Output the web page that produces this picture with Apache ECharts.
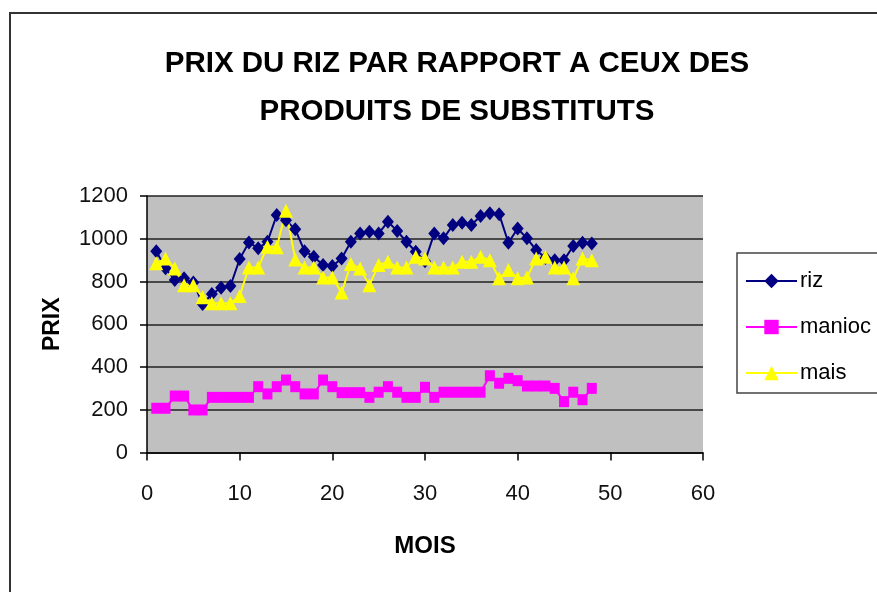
<!DOCTYPE html>
<html>
<head>
<meta charset="utf-8">
<title>Prix du riz</title>
<script src="https://cdn.jsdelivr.net/npm/echarts@6/dist/echarts.min.js"></script>
<style>
  html, body { margin: 0; padding: 0; background: #fff; }
  #main { width: 877px; height: 592px; }
</style>
</head>
<body>
<div id="main"></div>
<script>
// mois 1..48
var months = [1, 2, 3, 4, 5, 6, 7, 8, 9, 10, 11, 12, 13, 14, 15, 16, 17, 18, 19, 20, 21, 22, 23, 24,
  25, 26, 27, 28, 29, 30, 31, 32, 33, 34, 35, 36, 37, 38, 39, 40, 41, 42, 43, 44, 45, 46, 47, 48];
var riz = [942, 862, 807, 815, 795, 695, 741, 771, 779, 905, 983, 955, 986, 1111, 1087, 1044,
  942, 916, 877, 872, 908, 986, 1025, 1033, 1025, 1080, 1036, 986, 939, 895, 1025, 1002,
  1064, 1075, 1064, 1106, 1119, 1115, 981, 1048, 1002, 947, 910, 900, 900, 966, 981, 978];
var manioc = [207, 207, 264, 264, 199, 199, 258, 258, 258, 258, 258, 308, 274, 308, 339, 308,
  274, 274, 339, 308, 280, 280, 280, 258, 282, 308, 282, 258, 258, 305, 258, 282,
  282, 282, 282, 282, 359, 324, 347, 336, 311, 311, 311, 300, 238, 282, 247, 300];
var mais = [885, 908, 861, 783, 783, 726, 698, 698, 698, 732, 866, 866, 963, 960, 1131, 903,
  866, 866, 819, 819, 748, 882, 861, 783, 877, 892, 866, 866, 916, 908, 866, 866,
  866, 892, 892, 916, 900, 815, 854, 815, 819, 908, 916, 866, 866, 815, 908, 900];

function pairs(values) {
  return values.map(function (v, i) { return [months[i], v]; });
}

var font = "Liberation Sans, Arial, sans-serif";
var chart = echarts.init(document.getElementById("main"));

var option = {
  animation: false,
  backgroundColor: "#fff",
  title: {
    text: "PRIX DU RIZ PAR RAPPORT A CEUX DES\nPRODUITS DE SUBSTITUTS",
    left: 452,
    top: 35,
    textAlign: "center",
    textStyle: {
      fontFamily: font,
      fontSize: 29.5,
      fontWeight: "bold",
      lineHeight: 48,
      color: "#000",
    },
  },
  graphic: [
    {
      // cadre exterieur
      type: "rect",
      shape: { x: 10, y: 13, width: 900, height: 600 },
      style: { fill: "none", stroke: "#333", lineWidth: 2 },
      silent: true,
    },
  ],
  legend: {
    orient: "vertical",
    left: 737,
    top: 253,
    padding: [16, 40, 8, 8],
    itemWidth: 51,
    itemHeight: 18,
    itemGap: 22,
    backgroundColor: "#fff",
    borderColor: "#444",
    borderWidth: 1.5,
    textStyle: {
      fontFamily: font,
      fontSize: 22,
      lineHeight: 24,
      color: "#000",
      padding: [0, 0, 0, -2],
    },
    data: ["riz", "manioc", "mais"],
  },
  grid: {
    left: 147,
    right: 174,
    top: 196,
    bottom: 139.5,
    show: true,
    backgroundColor: "#C0C0C0",
    borderWidth: 0,
  },
  xAxis: {
    type: "value",
    min: 0,
    max: 60,
    interval: 10,
    name: "MOIS",
    nameLocation: "middle",
    nameGap: 82,
    nameTextStyle: {
      fontFamily: font,
      fontSize: 24,
      fontWeight: "bold",
      color: "#000",
    },
    axisLine: { show: true, lineStyle: { color: "#000", width: 1.5 } },
    axisTick: { show: true, length: 8, lineStyle: { color: "#000", width: 1.5 } },
    axisLabel: {
      margin: 30,
      fontFamily: font,
      fontSize: 22,
      color: "#111",
    },
    splitLine: { show: false },
  },
  yAxis: {
    type: "value",
    min: 0,
    max: 1200,
    interval: 200,
    name: "PRIX",
    nameLocation: "middle",
    nameRotate: 90,
    nameGap: 83,
    nameTextStyle: {
      fontFamily: font,
      fontSize: 23,
      fontWeight: "bold",
      color: "#000",
    },
    axisLine: { show: true, lineStyle: { color: "#000", width: 1.5 } },
    axisTick: { show: true, length: 7, lineStyle: { color: "#000", width: 1.5 } },
    axisLabel: {
      margin: 19,
      fontFamily: font,
      fontSize: 22,
      color: "#111",
      formatter: function (v) { return String(v); },
    },
    splitLine: { show: true, lineStyle: { color: "#222", width: 1.5 } },
  },
  series: [
    {
      name: "riz",
      type: "line",
      data: pairs(riz),
      symbol: "diamond",
      symbolSize: [12, 14],
      color: "#000080",
      lineStyle: { color: "#000080", width: 2 },
      itemStyle: { color: "#000080" },
    },
    {
      name: "manioc",
      type: "line",
      data: pairs(manioc),
      symbol: "rect",
      symbolSize: [10, 11],
      color: "#FF00FF",
      lineStyle: { color: "#FF00FF", width: 2 },
      itemStyle: { color: "#FF00FF" },
    },
    {
      name: "mais",
      type: "line",
      data: pairs(mais),
      symbol: "triangle",
      symbolSize: [14, 14],
      color: "#FFFF00",
      lineStyle: { color: "#FFFF00", width: 2 },
      itemStyle: { color: "#FFFF00" },
    },
  ],
};

chart.setOption(option);
window.onresize = function () {
  chart.resize();
};
</script>
</body>
</html>
